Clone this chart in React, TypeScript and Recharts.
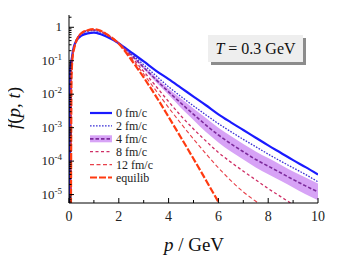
import React from "react";
import { ComposedChart, Line, Area, XAxis, YAxis } from "recharts";

// momentum grid (GeV)
const P = [
  0.02, 0.04, 0.06, 0.08, 0.1, 0.15, 0.2, 0.3, 0.5, 0.75, 1, 1.25, 1.5, 2, 2.5, 3, 3.5, 4, 4.5, 5,
  5.5, 6, 6.5, 7, 7.5, 8, 8.5, 9, 9.5, 10,
];

// f(p, t), one array per time
const F0 = [
  1e-7, 0.05, 0.07, 0.09, 0.105, 0.18, 0.27, 0.4, 0.56, 0.66, 0.69, 0.63, 0.53, 0.331, 0.178, 0.0955,
  0.0501, 0.0282, 0.0155, 8.51e-3, 4.68e-3, 2.51e-3, 1.445e-3, 8.51e-4, 5.01e-4, 2.95e-4, 1.78e-4,
  1.07e-4, 6.61e-5, 3.98e-5,
];
const F2 = [
  null, 1e-7, 1e-4, 0.01, 0.06, 0.17, 0.26, 0.43, 0.64, 0.77, 0.8, 0.73, 0.59, 0.331, 0.158, 0.0759,
  0.0355, 0.0166, 8.51e-3, 4.47e-3, 2.4e-3, 1.32e-3, 7.59e-4, 4.47e-4, 2.69e-4, 1.62e-4, 1.0e-4,
  6.31e-5, 3.98e-5, 2.4e-5,
];
const F4 = [
  null, null, 1e-7, 1e-4, 0.05, 0.16, 0.25, 0.42, 0.65, 0.79, 0.83, 0.76, 0.61, 0.331, 0.148, 0.0631,
  0.0269, 0.01175, 5.37e-3, 2.51e-3, 1.2e-3, 6.03e-4, 3.31e-4, 1.905e-4, 1.12e-4, 7.08e-5, 4.47e-5,
  2.82e-5, 1.82e-5, 1.2e-5,
];
const F4_LO = [
  null, null, null, null, null, null, null, null, null, null, 0.81, 0.745, 0.6, 0.316, 0.141, 0.057,
  0.0229, 9.55e-3, 3.89e-3, 1.7e-3, 7.41e-4, 3.63e-4, 1.95e-4, 1.12e-4, 6.46e-5, 4.07e-5, 2.57e-5,
  1.62e-5, 1.02e-5, 6.76e-6,
];
const F4_HI = [
  null, null, null, null, null, null, null, null, null, null, 0.85, 0.775, 0.62, 0.347, 0.155, 0.07,
  0.0316, 0.0145, 7.41e-3, 3.72e-3, 1.95e-3, 1.0e-3, 5.62e-4, 3.24e-4, 1.95e-4, 1.23e-4, 7.76e-5,
  4.9e-5, 3.24e-5, 2.14e-5,
];
const F8 = [
  null, null, 1e-8, 2e-5, 0.04, 0.15, 0.23, 0.41, 0.66, 0.8, 0.85, 0.78, 0.62, 0.339, 0.132, 0.0479,
  0.017, 6.03e-3, 2.24e-3, 9.12e-4, 3.98e-4, 1.82e-4, 9.33e-5, 5.01e-5, 2.75e-5, 1.51e-5, 8.71e-6,
  5.01e-6, 3.02e-6, 1.82e-6,
];
const F12 = [
  null, null, 1e-8, 1e-5, 0.035, 0.14, 0.22, 0.4, 0.67, 0.82, 0.86, 0.79, 0.62, 0.339, 0.12, 0.0398,
  0.0126, 3.98e-3, 1.32e-3, 4.57e-4, 1.66e-4, 6.31e-5, 2.63e-5, 1.2e-5, 6.31e-6, 3.39e-6, 1.86e-6,
  1.05e-6, 6.03e-7, 3.55e-7,
];
const FEQ = [
  null, null, 1e-8, 1e-5, 0.03, 0.14, 0.22, 0.4, 0.67, 0.82, 0.88, 0.8, 0.63, 0.32, 0.107, 0.0316,
  8.51e-3, 2.09e-3, 5.01e-4, 1.175e-4, 2.69e-5, 6.03e-6, 1.32e-6, 2.9e-7, null, null, null, null,
  null, null,
];

const X_MAJOR = [0, 2, 4, 6, 8, 10];
const X_MINOR = [1, 3, 5, 7, 9];
const Y_DECADES = [1e-5, 1e-4, 1e-3, 1e-2, 1e-1, 1];
const Y_LABELS = ["-5", "-4", "-3", "-2", "-1", ""];
const Y_DOMAIN = [5.6e-6, 2.33];

const FONT = "'Liberation Serif', 'Times New Roman', serif";

const data = P.map((p, i) => ({
  p,
  f0: F0[i],
  f2: F2[i],
  f4: F4[i],
  band: F4_LO[i] == null ? null : [F4_LO[i], F4_HI[i]],
  f8: F8[i],
  f12: F12[i],
  feq: FEQ[i],
}));

// minor ticks 2..9 in each decade inside the domain
const yTicks: number[] = [];
for (let e = -6; e <= 0; e++) {
  for (let m = 1; m <= 9; m++) {
    const v = m * Math.pow(10, e);
    if (v >= Y_DOMAIN[0] && v <= Y_DOMAIN[1]) yTicks.push(v);
  }
}
const xTicks = [...X_MAJOR, ...X_MINOR].sort((a, b) => a - b);

function isDecade(v: number) {
  const l = Math.log10(v);
  return Math.abs(l - Math.round(l)) < 1e-6;
}

function XTick(props: any) {
  const { x, y, payload, side } = props;
  const major = X_MAJOR.includes(payload.value);
  const len = major ? 5 : 3;
  const dir = side === "top" ? 1 : -1;
  return (
    <g>
      <line x1={x} x2={x} y1={y} y2={y + dir * len} stroke="#000" strokeWidth={1} />
      {side === "bottom" && major && (
        <text x={x} y={y + 18} textAnchor="middle" fontSize={14} fontFamily={FONT} fill="#222">
          {payload.value}
        </text>
      )}
    </g>
  );
}

function YTick(props: any) {
  const { x, y, payload, side } = props;
  const v = payload.value;
  const major = isDecade(v);
  const len = major ? 5 : 2.5;
  const dir = side === "left" ? 1 : -1;
  const idx = Y_DECADES.findIndex((d) => Math.abs(Math.log10(d) - Math.log10(v)) < 1e-6);
  return (
    <g>
      <line x1={x} x2={x + dir * len} y1={y} y2={y} stroke="#000" strokeWidth={1} />
      {side === "left" && idx >= 0 && (
        <text x={x - 7} y={y + 4} textAnchor="end" fontSize={13} fontFamily={FONT} fill="#222">
          {Y_LABELS[idx] === "" ? (
            "1"
          ) : (
            <>
              10
              <tspan dy={-5} fontSize={9}>
                {Y_LABELS[idx]}
              </tspan>
            </>
          )}
        </text>
      )}
    </g>
  );
}

const legendItems = [
  { label: "0 fm/c", color: "#1a1aff", width: 2.2, dash: undefined },
  { label: "2 fm/c", color: "#3b2fd6", width: 1.3, dash: "1.6 1.4" },
  { label: "4 fm/c", color: "#7c2a9c", width: 1.8, dash: "3.5 2", band: true },
  { label: "8 fm/c", color: "#cf2f66", width: 1.3, dash: "3 2.5" },
  { label: "12 fm/c", color: "#e8404a", width: 1.1, dash: "4 2.5" },
  { label: "equilib", color: "#ff3a10", width: 2.2, dash: "7 2" },
];

const W = 343;
const H = 266;

export default function App() {
  return (
    <div style={{ position: "relative", width: W, height: H, margin: -8 }}>
      <ComposedChart
        width={W}
        height={H}
        data={data}
        margin={{ top: 15, right: 25, bottom: 33, left: 19 }}
      >
        <XAxis
          xAxisId="b"
          dataKey="p"
          type="number"
          domain={[0, 10]}
          ticks={xTicks}
          interval={0}
          height={30}
          tickSize={0}
          tickMargin={0}
          tickLine={false}
          axisLine={{ stroke: "#000" }}
          allowDataOverflow
          tick={(pr: any) => <XTick {...pr} side="bottom" />}
        />
        <XAxis
          xAxisId="t"
          orientation="top"
          dataKey="p"
          type="number"
          domain={[0, 10]}
          ticks={xTicks}
          interval={0}
          height={0}
          tickSize={0}
          tickMargin={0}
          tickLine={false}
          axisLine={{ stroke: "#000" }}
          tick={(pr: any) => <XTick {...pr} side="top" />}
        />
        <YAxis
          yAxisId="l"
          scale="log"
          domain={Y_DOMAIN}
          allowDataOverflow
          ticks={yTicks}
          interval={0}
          width={50}
          tickSize={0}
          tickMargin={0}
          tickLine={false}
          axisLine={{ stroke: "#000" }}
          tick={(pr: any) => <YTick {...pr} side="left" />}
        />
        <YAxis
          yAxisId="r"
          orientation="right"
          scale="log"
          domain={Y_DOMAIN}
          allowDataOverflow
          ticks={yTicks}
          interval={0}
          width={0}
          tickSize={0}
          tickMargin={0}
          tickLine={false}
          axisLine={{ stroke: "#000" }}
          tick={(pr: any) => <YTick {...pr} side="right" />}
        />
        <Area
          xAxisId="b"
          yAxisId="l"
          dataKey="band"
          type="monotone"
          fill="#d7a3f6"
          fillOpacity={1}
          stroke="none"
          isAnimationActive={false}
        />
        <Line xAxisId="b" yAxisId="l" dataKey="f0" type="monotone" stroke="#1a1aff" strokeWidth={2.2} dot={false} isAnimationActive={false} />
        <Line xAxisId="b" yAxisId="l" dataKey="f2" type="monotone" stroke="#3b2fd6" strokeWidth={1.3} strokeDasharray="1.6 1.4" dot={false} isAnimationActive={false} />
        <Line xAxisId="b" yAxisId="l" dataKey="f4" type="monotone" stroke="#7c2a9c" strokeWidth={1.6} strokeDasharray="3.5 2" dot={false} isAnimationActive={false} />
        <Line xAxisId="b" yAxisId="l" dataKey="f8" type="monotone" stroke="#cf2f66" strokeWidth={1.3} strokeDasharray="3 2.5" dot={false} isAnimationActive={false} />
        <Line xAxisId="b" yAxisId="l" dataKey="f12" type="monotone" stroke="#e8404a" strokeWidth={1.1} strokeDasharray="4 2.5" dot={false} isAnimationActive={false} />
        <Line xAxisId="b" yAxisId="l" dataKey="feq" type="monotone" stroke="#ff3a10" strokeWidth={2.2} strokeDasharray="7 2" dot={false} isAnimationActive={false} />
      </ComposedChart>

      <svg
        width={W}
        height={H}
        style={{ position: "absolute", left: 0, top: 0, pointerEvents: "none" }}
        fontFamily={FONT}
      >
        {/* annotation box */}
        <rect x={211} y={38} width={95} height={27} fill="#8c8c8c" />
        <rect x={208} y={35} width={95} height={27} fill="#eeeeee" />
        <text x={255.5} y={54} textAnchor="middle" fontSize={16} fill="#111">
          <tspan fontStyle="italic">T</tspan> = 0.3 GeV
        </text>

        {/* legend */}
        {legendItems.map((it, i) => {
          const y = 113 + i * 12.9;
          return (
            <g key={it.label}>
              {it.band && <rect x={90} y={y - 3.5} width={22} height={7} fill="#d7a3f6" />}
              <line x1={90} x2={112} y1={y} y2={y} stroke={it.color} strokeWidth={it.width} strokeDasharray={it.dash} />
              <text x={116} y={y + 4} fontSize={12} fill="#222">
                {it.label}
              </text>
            </g>
          );
        })}

        {/* axis titles */}
        <text x={194} y={251} textAnchor="middle" fontSize={19} fill="#111">
          <tspan fontStyle="italic">p</tspan> / GeV
        </text>
        <text
          transform="translate(20,108) rotate(-90)"
          textAnchor="middle"
          fontSize={19}
          fill="#111"
        >
          <tspan fontStyle="italic">f</tspan>(<tspan fontStyle="italic">p</tspan>,{" "}
          <tspan fontStyle="italic">t</tspan>)
        </text>
      </svg>
    </div>
  );
}
